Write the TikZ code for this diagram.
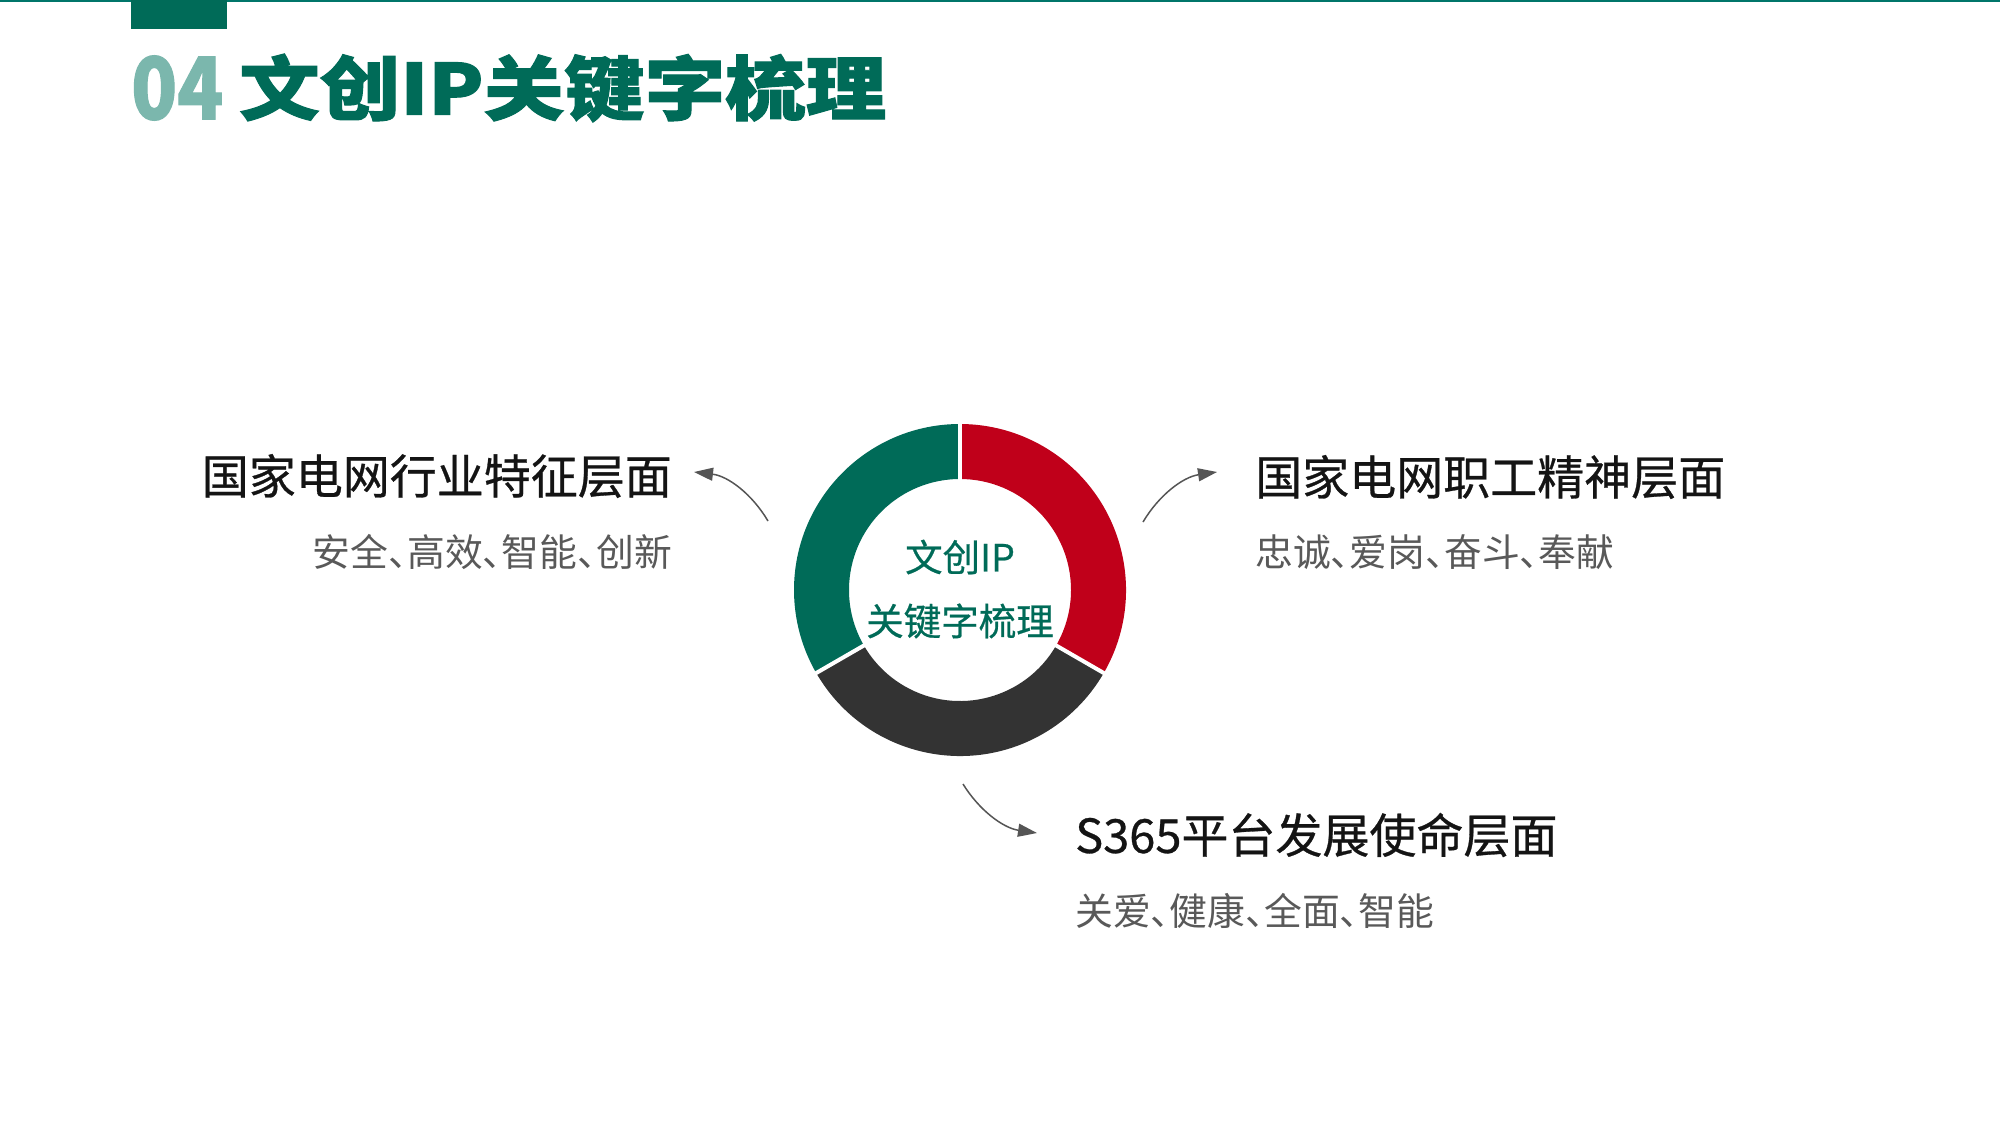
\documentclass[tikz,border=0pt]{standalone}
\usepackage{fontspec}
\usetikzlibrary{arrows.meta}
\newfontfamily\cjk{Noto Sans CJK SC}
\newfontfamily\cjkmed[FakeBold=0.6]{Noto Sans CJK SC}
\newfontfamily\cjksub[RawFeature=+halt]{Noto Sans CJK SC}
\newfontfamily\cjkheavy[FakeBold=1.4]{Noto Sans CJK SC}
\definecolor{tealline}{HTML}{00766A}
\definecolor{dgreen}{HTML}{006B58}
\definecolor{lteal}{HTML}{7BB7AD}
\definecolor{dred}{HTML}{C0001A}
\definecolor{dgray}{HTML}{333333}
\definecolor{subgray}{HTML}{595959}
\definecolor{arrgray}{HTML}{555555}
\tikzset{
  head/.style={inner sep=0pt, font=\cjkmed\fontsize{47}{52}\selectfont, text=black!92},
  sub/.style={inner sep=0pt, font=\cjksub\fontsize{37.8}{40}\selectfont, text=subgray},
  ctr/.style={inner sep=0pt, font=\cjkmed\fontsize{37.5}{42}\selectfont, text=dgreen},
  arr/.style={draw=arrgray, line width=1.5pt, -{Triangle[length=19pt,width=13pt]}},
}
\begin{document}
\begin{tikzpicture}[x=1pt,y=-1pt]
\path[use as bounding box, fill=white] (0,0) rectangle (2000,1125);
% top line and tab
\fill[tealline] (0,0) rectangle (2000,2);
\fill[dgreen] (131,0) rectangle (227,29);
% title
\node[inner sep=0pt, anchor=west, text=lteal, font=\cjkheavy\bfseries\fontsize{86}{90}\selectfont] (num) at (131,88) {\scalebox{0.88}[1]{04}};
\node[inner sep=0pt, anchor=west, text=dgreen, font=\cjkheavy\bfseries\fontsize{70}{76}\selectfont] (title) at (239,88) {\scalebox{1.15}[1]{文创IP关键字梳理}};
% donut
\begin{scope}[shift={(960,590)}, x=1pt, y=1pt]
  \fill[dgreen] (90:166) arc[start angle=90, end angle=210, radius=166] -- (210:111) arc[start angle=210, end angle=90, radius=111] -- cycle;
  \fill[dgray] (210:166) arc[start angle=210, end angle=330, radius=166] -- (330:111) arc[start angle=330, end angle=210, radius=111] -- cycle;
  \fill[dred] (330:166) arc[start angle=330, end angle=450, radius=166] -- (90:111) arc[start angle=90, end angle=-30, radius=111] -- cycle;
  \foreach \a in {90,210,330} \draw[white, line width=4pt] (\a:105) -- (\a:172);
\end{scope}
\node[ctr] (c1) at (960,557) {文创IP};
\node[ctr] (c2) at (960,621) {关键字梳理};
% left
\node[head, anchor=east] (lh) at (672,476) {国家电网行业特征层面};
\node[sub, anchor=east] (ls) at (672,552) {安全、高效、智能、创新};
% right
\node[head, anchor=west] (rh) at (1255,477) {国家电网职工精神层面};
\node[sub, anchor=west] (rs) at (1255,552) {忠诚、爱岗、奋斗、奉献};
% bottom
\node[head, anchor=west] (bh) at (1075,835) {S365平台发展使命层面};
\node[sub, anchor=west] (bs) at (1075,911) {关爱、健康、全面、智能};
% arrows
\coordinate (la1) at (768,521);
\coordinate (la2) at (694,472);
\coordinate (ra1) at (1143,522);
\coordinate (ra2) at (1217,472);
\coordinate (ba1) at (963,784);
\coordinate (ba2) at (1037,833);
\draw[arr] (la1) .. controls (752,494) and (728,476) .. (la2);
\draw[arr] (ra1) .. controls (1159,495) and (1183,477) .. (ra2);
\draw[arr] (ba1) .. controls (979,810) and (1003,828) .. (ba2);
\end{tikzpicture}
\end{document}
